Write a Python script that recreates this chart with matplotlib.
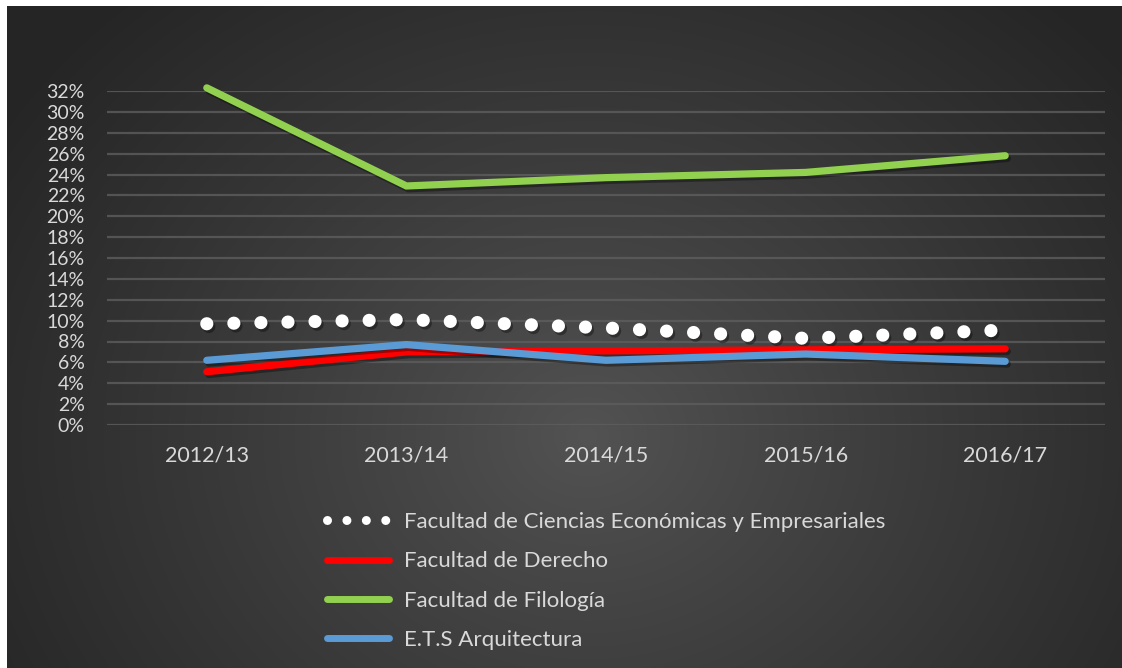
import numpy as np
import matplotlib
matplotlib.use("Agg")
import matplotlib.pyplot as plt
from matplotlib.lines import Line2D
import matplotlib.patheffects as pe

categories = ["2012/13", "2013/14", "2014/15", "2015/16", "2016/17"]
economicas = [0.097, 0.101, 0.093, 0.083, 0.091]
derecho = [0.051, 0.070, 0.071, 0.072, 0.073]
filologia = [0.323, 0.229, 0.237, 0.242, 0.258]
arquitectura = [0.062, 0.077, 0.062, 0.068, 0.061]
series_names = ["Facultad de Ciencias Económicas y Empresariales",
                "Facultad de Derecho", "Facultad de Filología", "E.T.S Arquitectura"]
yticks = np.arange(0, 0.33, 0.02)

W, H = 1122, 668
fig = plt.figure(figsize=(W / 100, H / 100), dpi=100)
fig.patch.set_facecolor("white")

# background radial gradient
bg = fig.add_axes([7 / W, 0, 1 - 7 / W, 1 - 6 / H])
bg.set_axis_off()
yy, xx = np.mgrid[0:662, 0:1115]
cx, cy = 580, 430
d = np.sqrt(((xx - cx) / 1.0) ** 2 + ((yy - cy) / 0.85) ** 2)
t = np.clip(d / 700.0, 0, 1)
c0, c1 = 0x53 / 255, 0x25 / 255
val = c0 + (c1 - c0) * t ** 0.9
img = np.dstack([val, val, val])
bg.imshow(img, aspect="auto", extent=[0, 1, 0, 1], origin="upper")
bg.set_xlim(0, 1)
bg.set_ylim(0, 1)

font = "Lato"
ax = fig.add_axes([107 / W, (H - 425) / H, (1105 - 107) / W, (425 - 91) / H])
ax.patch.set_alpha(0)
x = np.arange(len(categories))
ax.set_xlim(-0.5, len(categories) - 0.5)
ax.set_ylim(0, 0.32)
ax.set_yticks(yticks)
ax.set_yticklabels([f"{int(round(v * 100))}%" for v in yticks], fontfamily=font,
                   fontsize=14, color="#d9d9d9")
ax.set_xticks(x)
ax.set_xticklabels(categories, fontfamily=font, fontsize=15.5, color="#d9d9d9")
ax.tick_params(axis="both", length=0)
ax.tick_params(axis="y", pad=16)
ax.tick_params(axis="x", pad=15)
for s in ax.spines.values():
    s.set_visible(False)
ax.grid(axis="y", color="#5e5e5e", linewidth=1.6, alpha=0.8)
ax.set_axisbelow(True)

shadow = [pe.SimpleLineShadow(offset=(1.5, -2.0), shadow_color="black", alpha=0.35),
          pe.Normal()]

l1, = ax.plot(x, economicas, color="white", linewidth=9.5, linestyle=(0, (0.001, 2.05)),
              dash_capstyle="round", clip_on=False, path_effects=shadow, zorder=3)
l2, = ax.plot(x, derecho, color="#FF0000", linewidth=5.2, solid_capstyle="round",
              solid_joinstyle="miter", clip_on=False, path_effects=shadow, zorder=3)
l3, = ax.plot(x, filologia, color="#92D050", linewidth=5.2, solid_capstyle="round",
              solid_joinstyle="miter", clip_on=False, path_effects=shadow, zorder=3)
l4, = ax.plot(x, arquitectura, color="#5B9BD5", linewidth=5.2, solid_capstyle="round",
              solid_joinstyle="miter", clip_on=False, path_effects=shadow, zorder=3)

handles = [
    Line2D([], [], color="white", linewidth=6.5, linestyle=(0, (0.001, 2.15)), dash_capstyle="round"),
    Line2D([], [], color="#FF0000", linewidth=5, solid_capstyle="round"),
    Line2D([], [], color="#92D050", linewidth=5, solid_capstyle="round"),
    Line2D([], [], color="#5B9BD5", linewidth=5, solid_capstyle="round"),
]
leg = fig.legend(handles, series_names, loc="upper left",
                 bbox_to_anchor=(327 / W, 1 - 512 / H), frameon=False,
                 prop={"family": font, "size": 16}, labelcolor="#d9d9d9",
                 handlelength=2.78, handletextpad=0.68, labelspacing=0.87,
                 borderpad=0, borderaxespad=0)

fig.savefig("out.png", dpi=100, facecolor=fig.get_facecolor())
